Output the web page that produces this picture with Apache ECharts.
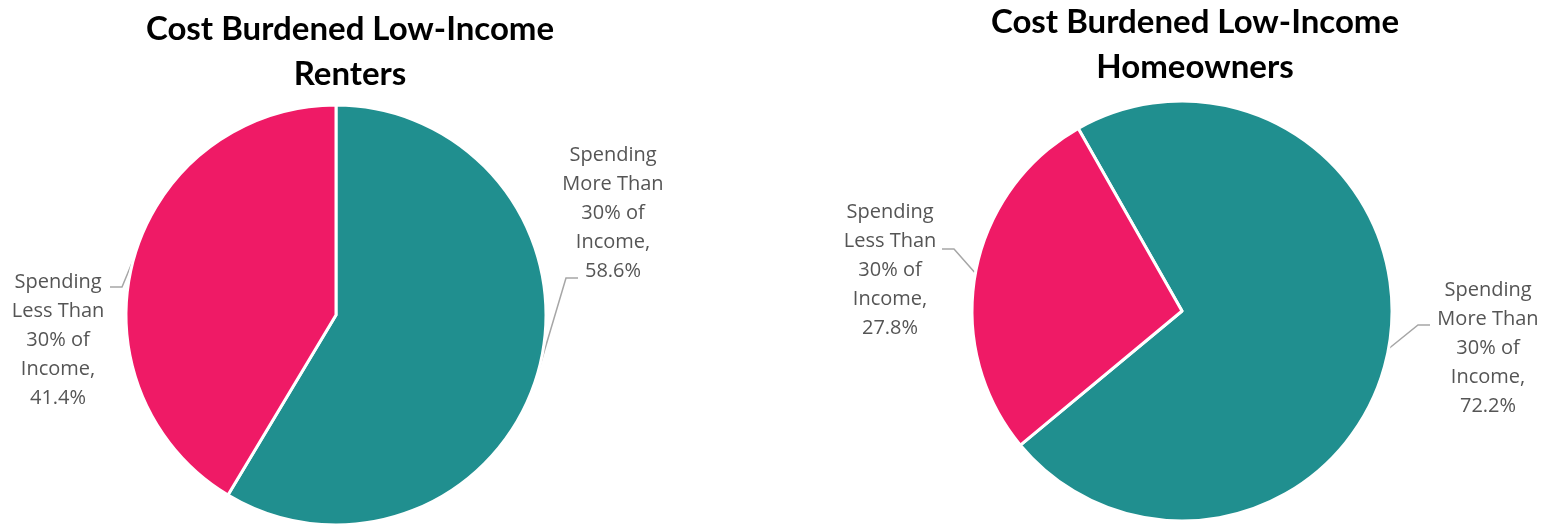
<!DOCTYPE html>
<html>
<head>
<meta charset="utf-8">
<script src="https://cdn.jsdelivr.net/npm/echarts@6/dist/echarts.min.js"></script>
<style>
  html, body { margin: 0; padding: 0; background: #fff; }
  #main { width: 1552px; height: 524px; }
</style>
</head>
<body>
<div id="main"></div>
<script>
// categories and values
var categories = ['Spending\nMore Than\n30% of\nIncome', 'Spending\nLess Than\n30% of\nIncome'];
var renterValues = [58.6, 41.4];
var ownerValues = [72.2, 27.8];
var titles = ['Cost Burdened Low-Income\nRenters', 'Cost Burdened Low-Income\nHomeowners'];

var colors = ['#208F8F', '#EF1A66'];

// label block centres and where the leader line meets the text (offset from centre)
var labelSpots = [
    [[613, 213], [58, 340]],
    [[1488, 348], [890, 270]]
];
var lineEnds = [
    [[-35, 65], [52, -53]],
    [[-58, -23], [52, -21]]
];

function buildData(values) {
    return values.map(function (v, i) {
        return { name: categories[i], value: v, itemStyle: { color: colors[i] } };
    });
}

function pieSeries(idx, center, startAngle, values) {
    return {
        type: 'pie',
        center: center,
        radius: 210,
        startAngle: startAngle,
        clockwise: true,
        animation: false,
        itemStyle: { borderColor: '#fff', borderWidth: 3 },
        label: {
            show: true,
            formatter: '{b},\n{c}%',
            color: '#555',
            fontFamily: 'Open Sans',
            fontSize: 20,
            lineHeight: 29,
            align: 'center',
            overflow: 'none',
            width: 200
        },
        labelLine: {
            show: true,
            length: 20,
            length2: 12,
            lineStyle: { color: '#A6A6A6', width: 1.5 }
        },
        labelLayout: function (p) {
            var s = labelSpots[idx][p.dataIndex];
            var e = lineEnds[idx][p.dataIndex];
            var out = { x: s[0], y: s[1], align: 'center', verticalAlign: 'middle' };
            if (p.labelLinePoints) {
                var start = p.labelLinePoints[0];
                var endX = s[0] + e[0], endY = s[1] + e[1];
                var elbowX = endX + (e[0] > 0 ? 12 : -12);
                out.labelLinePoints = [start, [elbowX, endY], [endX, endY]];
            }
            return out;
        },
        emphasis: { disabled: true },
        data: buildData(values)
    };
}

var titleStyle = { fontFamily: 'Lato', fontWeight: 'bold', fontSize: 33, lineHeight: 45, color: '#000' };

var myChart = echarts.init(document.getElementById('main'));
myChart.setOption({
    backgroundColor: '#fff',
    title: [
        { text: titles[0], left: 345, top: 2, textAlign: 'center', textStyle: titleStyle },
        { text: titles[1], left: 1190, top: -5, textAlign: 'center', textStyle: titleStyle }
    ],
    series: [
        pieSeries(0, [336, 315], 90, renterValues),
        pieSeries(1, [1182, 311], 119.6, ownerValues)
    ]
});
</script>
</body>
</html>
